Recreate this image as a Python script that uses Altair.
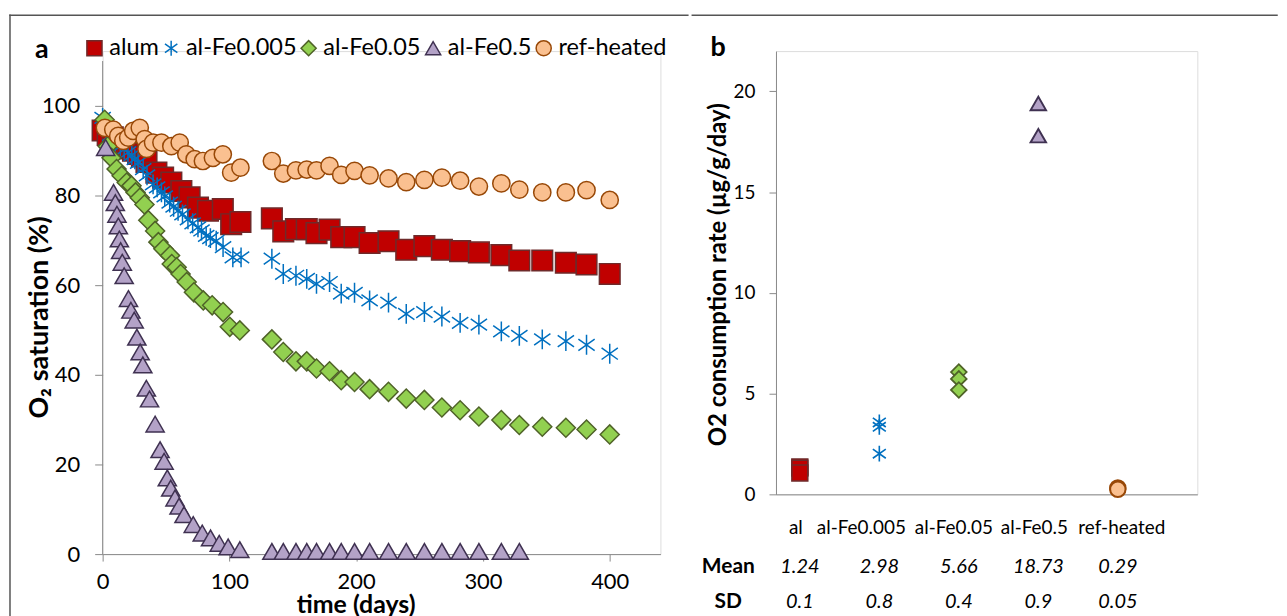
import altair as alt
import pandas as pd

# ---------------- data ----------------
SERIES = ["alum", "al-Fe0.005", "al-Fe0.05", "al-Fe0.5", "ref-heated"]

LATE_T = [133.5, 142.5, 152.5, 161, 168.7, 179, 188.2, 198.7, 210.6, 225.5, 239.5,
          253.8, 267.6, 282, 296.8, 314.5, 328.7, 346.8, 365.4, 381.7, 400]

ALUM_T = [0, 4, 8, 12, 16, 20, 24, 28, 31, 34.6, 42.4, 47.7, 54.2, 62.1, 68.6, 75.2,
          83.1, 94.8, 101.4, 108.7] + LATE_T
ALUM_V = [94.5, 93.5, 93, 92, 91.3, 90.5, 90, 89.3, 88.7, 87.5, 85.1, 84, 82.9, 81.0,
          79.6, 77.3, 76.6, 77.0, 73.6, 74.1,
          74.9, 72.0, 72.5, 72.5, 71.6, 72.4, 70.7, 70.7, 69.4, 69.8, 67.9, 68.7, 67.9,
          67.6, 67.3, 66.7, 65.5, 65.5, 65.0, 64.6, 62.5]

FE0005_T = [0, 3, 6, 10, 14, 17, 20, 23, 25.4, 28, 32, 35, 39.8, 43, 46.4, 49, 52.9, 56,
            59.5, 63, 67.3, 71, 75.2, 78, 81.7, 85, 89.6, 95, 102.7, 109.2] + LATE_T
FE0005_V = [97.3, 95, 93.5, 92, 91, 90.3, 89.6, 89, 88.1, 87.3, 85.9, 84.5, 82.5, 81.8,
            80.7, 79.8, 78.4, 77.5, 76.6, 75.8, 74.7, 73.8, 72.9, 72.2, 71.0, 70.5, 69.9,
            68.5, 66.2, 66.2,
            65.9, 62.5, 62.1, 61.4, 60.3, 60.7, 58.1, 58.3, 56.6, 56.1, 53.6, 54.0, 53.0,
            51.6, 51.2, 49.7, 48.7, 47.9, 47.5, 46.7, 44.7]

FE005_T = [1.6, 4, 7, 11, 15, 19, 22.8, 26, 29.3, 33, 36, 41.4, 44, 47.9, 53.2, 54.5,
           58.4, 61.5, 66.3, 72, 79.4, 86.4, 95, 100.3, 108.2] + LATE_T
FE005_V = [96.9, 91, 88.4, 85.9, 84.4, 82.9, 82.2, 80.7, 79.5, 78.0, 74.5, 72.1, 69.6,
           68.1, 66.6, 64.7, 64.0, 62.5, 60.7, 58.4, 56.6, 55.5, 54.0, 50.7, 49.9,
           47.9, 45.1, 43.0, 43.0, 41.4, 40.8, 38.8, 38.4, 36.8, 36.2, 34.7, 34.4, 32.7,
           32.1, 30.7, 29.9, 28.8, 28.4, 28.2, 27.8, 26.7]

FE05_T = [2.4, 8.6, 10, 11.3, 12.4, 13.2, 14.2, 15.5, 17, 20.4, 22.3, 24.9, 27, 29.6,
          31.7, 34.5, 37, 41.4, 45.3, 48.5, 51, 53.7, 57.1, 60.3, 64.2, 71.5, 78.6, 85.1,
          92, 99, 108.2] + LATE_T[:17]
FE05_V = [90.7, 80.7, 78.4, 75.8, 73.2, 70.3, 67.7, 65.1, 62.1, 57.0, 54.4, 52.2, 48.4,
          45.1, 42.2, 37.0, 34.6, 29.0, 23.3, 20.7, 17.0, 14.7, 12.5, 10.7, 8.8, 6.6,
          4.7, 3.6, 2.4, 1.6, 1.0,
          0.6, 0.6, 0.6, 0.6, 0.6, 0.6, 0.6, 0.6, 0.6, 0.6, 0.6, 0.6, 0.6, 0.6, 0.6,
          0.6, 0.6]

REF_T = [1.8, 8.4, 12.3, 16.3, 20.2, 24.1, 29.3, 33.2, 34.6, 39.8, 46.4, 54.2, 60.8, 66,
         72.6, 79.1, 87, 94.8, 101.4, 108.7] + LATE_T
REF_V = [95.1, 94.7, 93.3, 92.2, 92.9, 94.4, 95.1, 92.6, 90.4, 91.8, 91.8, 91.0, 91.8,
         89.2, 88.1, 87.7, 88.4, 89.2, 85.1, 86.2,
         87.7, 84.9, 85.6, 85.8, 85.6, 86.6, 84.6, 85.5, 84.5, 83.8, 83.0, 83.5, 84.0,
         83.3, 82.0, 82.7, 81.3, 80.7, 80.7, 81.2, 79.0]

Y_AXIS_A = [0, 110]          # extent of panel a's vertical axis line

# panel b
B_GROUPS = ["al", "al-Fe0.005", "al-Fe0.05", "al-Fe0.5", "ref-heated"]
B_AL = [1.36, 1.30, 1.06]
B_FE0005 = [3.57, 3.35, 2.02]
B_FE005 = [6.07, 5.73, 5.18]
B_FE05 = [19.4, 17.8]
B_REF = [0.32, 0.25]
B_MEAN = ["1.24", "2.98", "5.66", "18.73", "0.29"]
B_SD = ["0.1", "0.8", "0.4", "0.9", "0.05"]
ROW_LABELS = ["Mean", "SD"]

# ---------------- styles ----------------
FONT = "Lato"
GREY = "#898989"
STAR = "M0,-1L0,1M-0.82,-0.58L0.82,0.58M-0.82,0.58L0.82,-0.58"
SHAPES = ["square", STAR, "diamond", "triangle-up", "circle"]
FILLS = ["#C00000", "transparent", "#92D050", "#B3A2C7", "#FAC090"]
STROKES = ["#6E2A2A", "#0070C0", "#4F6228", "#3F3151", "#984807"]
STROKE_W = [1.5, 2.0, 1.5, 1.5, 1.5]
SIZES_A = [324, 340, 430, 430, 300]
SIZES_B = [256, 240, 300, 380, 250]
CAT_DX = [-4, -18, -5, -4, 4]      # horizontal nudges of the table's header labels (px)

# layout (page pixels)
A_LEFT, TOP = 101, 48
W_A, H_A = 560, 505          # x 0..440, y 0..112.2 (axis line drawn to 110)
B_LEFT = 774
W_B, H_B = 423, 445          # x 0.7..6.0, y 0..22
FRAME_X, FRAME_Y = 8, 12
SPLIT = 688.5                # where the frame's top edge passes from panel a to panel b

rows = []
for name, ts, vs in [("alum", ALUM_T, ALUM_V), ("al-Fe0.005", FE0005_T, FE0005_V),
                     ("al-Fe0.05", FE005_T, FE005_V), ("al-Fe0.5", FE05_T, FE05_V),
                     ("ref-heated", REF_T, REF_V)]:
    for t, v in zip(ts, vs):
        rows.append({"series": name, "t": t, "v": v})
df_a = pd.DataFrame(rows)

leg = alt.Legend(title=None, orient="none", legendX=-20, legendY=33 - TOP,
                 direction="horizontal", labelFontSize=23.6, labelFont=FONT,
                 symbolSize=230, symbolStrokeWidth=1.5, labelOffset=3,
                 columnPadding=0, padding=0, labelColor="#000")

xa = alt.Scale(domain=[0, 440], nice=False)
ya = alt.Scale(domain=[0, H_A / 4.5], nice=False)

points_a = alt.Chart(df_a).mark_point(filled=True, opacity=1).encode(
    x=alt.X("t:Q", scale=xa,
            axis=alt.Axis(values=[0, 100, 200, 300, 400], title="time (days)",
                          titleFontSize=25, titleFontWeight="bold", titleFont=FONT,
                          titleX=254, titleY=39, titleBaseline="top", titleAnchor="middle",
                          labelFontSize=22, labelFont=FONT, labelPadding=11, tickSize=7,
                          grid=False, domainColor=GREY, tickColor=GREY, labelColor="#000",
                          labelFlush=False)),
    y=alt.Y("v:Q", scale=ya,
            axis=alt.Axis(values=[0, 20, 40, 60, 80, 100], title="O\u2082 saturation (%)",
                          titleFontSize=27, titleFontWeight="bold", titleFont=FONT,
                          titleX=-49, titleY=315 - TOP, titleAngle=-90, titleBaseline="bottom",
                          titleAlign="center", domain=False,
                          labelFontSize=22, labelFont=FONT, labelPadding=15, tickSize=8,
                          grid=False, tickColor=GREY, labelColor="#000")),
    shape=alt.Shape("series:N", scale=alt.Scale(domain=SERIES, range=SHAPES), legend=leg),
    fill=alt.Fill("series:N", scale=alt.Scale(domain=SERIES, range=FILLS), legend=leg),
    stroke=alt.Stroke("series:N", scale=alt.Scale(domain=SERIES, range=STROKES), legend=leg),
    size=alt.Size("series:N", scale=alt.Scale(domain=SERIES[::-1], range=SIZES_A[::-1]),
                  legend=None),
    strokeWidth=alt.StrokeWidth("series:N",
                                scale=alt.Scale(domain=SERIES[::-1], range=STROKE_W[::-1]),
                                legend=None),
)

axis_line_a = alt.Chart(pd.DataFrame({"x": [0], "y1": [Y_AXIS_A[0]], "y2": [Y_AXIS_A[1]]})).mark_rule(
    color=GREY, strokeWidth=1).encode(x=alt.X("x:Q", scale=xa), y=alt.Y("y1:Q", scale=ya), y2="y2:Q")

lab_a = alt.Chart(pd.DataFrame({"lab": ["a"]})).mark_text(
    font=FONT, fontSize=27, fontWeight="bold", align="center", baseline="middle", color="#000"
).encode(text="lab:N", x=alt.value(40 - A_LEFT), y=alt.value(47 - TOP))

frame_a = alt.Chart(pd.DataFrame({"x1": [FRAME_X - A_LEFT, FRAME_X - A_LEFT],
                                  "x2": [FRAME_X - A_LEFT, SPLIT - A_LEFT],
                                  "y1": [FRAME_Y - TOP, FRAME_Y - TOP],
                                  "y2": [640 - TOP, FRAME_Y - TOP]})).mark_rule(
    color="#555555", strokeWidth=1.5, strokeCap="square").encode(
    x=alt.X("x1:Q", scale=None), x2="x2:Q", y=alt.Y("y1:Q", scale=None), y2="y2:Q")

panel_a = alt.layer(frame_a, axis_line_a, points_a, lab_a).properties(width=W_A, height=H_A)

# ---------------- panel b ----------------
rows_b = []
for i, vals in enumerate([B_AL, B_FE0005, B_FE005, B_FE05, B_REF]):
    for v in vals:
        rows_b.append({"series": SERIES[i], "pos": i + 1, "rate": v})
df_b = pd.DataFrame(rows_b)

xb = alt.Scale(domain=[0.7, 6.0], nice=False, zero=False)
points_b = alt.Chart(df_b).mark_point(filled=True, opacity=1).encode(
    x=alt.X("pos:Q", scale=xb,
            axis=alt.Axis(labels=False, ticks=False, title=None, grid=False,
                          domainColor=GREY)),
    y=alt.Y("rate:Q", scale=alt.Scale(domain=[0, 22], nice=False),
            axis=alt.Axis(values=[0, 5, 10, 15, 20], title="O2 consumption rate (\u00b5g/g/day)",
                          titleFontSize=24, titleFontWeight="bold", titleFont=FONT,
                          titleX=-46, titleY=272 - TOP, titleAngle=-90, titleBaseline="bottom",
                          titleAlign="center",
                          labelFontSize=19, labelFont=FONT, labelPadding=14, tickSize=7,
                          grid=False, domainColor=GREY, tickColor=GREY, labelColor="#000")),
    shape=alt.Shape("series:N", scale=alt.Scale(domain=SERIES, range=SHAPES), legend=None),
    fill=alt.Fill("series:N", scale=alt.Scale(domain=SERIES, range=FILLS), legend=None),
    stroke=alt.Stroke("series:N", scale=alt.Scale(domain=SERIES, range=STROKES), legend=None),
    size=alt.Size("series:N", scale=alt.Scale(domain=SERIES, range=SIZES_B), legend=None),
    strokeWidth=alt.StrokeWidth("series:N", scale=alt.Scale(domain=SERIES, range=STROKE_W),
                                legend=None),
)

df_tab = pd.DataFrame({"pos": [1, 2, 3, 4, 5], "cat": B_GROUPS, "mean": B_MEAN, "sd": B_SD})

cat_layers = [
    alt.Chart(df_tab).transform_filter(alt.datum.pos == i + 1).mark_text(
        font=FONT, fontSize=19, align="center", baseline="middle", color="#000", dx=CAT_DX[i]
    ).encode(x=alt.X("pos:Q", scale=xb), text="cat:N", y=alt.value(527 - TOP))
    for i in range(5)
]

def row_text(field, ypix):
    return alt.Chart(df_tab).mark_text(
        font=FONT, fontSize=20, fontStyle="italic", align="center", baseline="middle",
        color="#000"
    ).encode(x=alt.X("pos:Q", scale=xb), text=f"{field}:N", y=alt.value(ypix - TOP))

mean_text = row_text("mean", 566)
sd_text = row_text("sd", 601)

row_lab = alt.Chart(pd.DataFrame({"txt": ROW_LABELS, "pos": [0.1, 0.1],
                                  "yy": [566 - TOP, 601 - TOP]})).mark_text(
    font=FONT, fontSize=21, fontWeight="bold", align="center", baseline="middle", color="#000"
).encode(x=alt.X("pos:Q", scale=xb), y=alt.Y("yy:Q", scale=None), text="txt:N")

lab_b = alt.Chart(pd.DataFrame({"lab": ["b"]})).mark_text(
    font=FONT, fontSize=27, fontWeight="bold", align="center", baseline="middle", color="#000"
).encode(text="lab:N", x=alt.value(716 - B_LEFT), y=alt.value(45 - TOP))

frame_b = alt.Chart(pd.DataFrame({"x1": [SPLIT + 1.5 - B_LEFT], "x2": [1277 - B_LEFT],
                                  "y1": [FRAME_Y - TOP]})).mark_rule(
    color="#555555", strokeWidth=1.5, strokeCap="square").encode(
    x=alt.X("x1:Q", scale=None), x2="x2:Q", y=alt.Y("y1:Q", scale=None))

panel_b = alt.layer(frame_b, points_b, *cat_layers, mean_text, sd_text, row_lab,
                    lab_b).properties(width=W_B, height=H_B)

chart = alt.hconcat(panel_a, panel_b, spacing=0).resolve_scale(
    x="independent", y="independent", shape="independent", fill="independent",
    stroke="independent", size="independent", strokeWidth="independent"
).properties(
    padding={"left": 0, "top": 4, "right": 0, "bottom": 0}
).configure_view(stroke=None).configure(font=FONT)

chart.save("out.html", embed_options={"renderer": "svg", "actions": False})
